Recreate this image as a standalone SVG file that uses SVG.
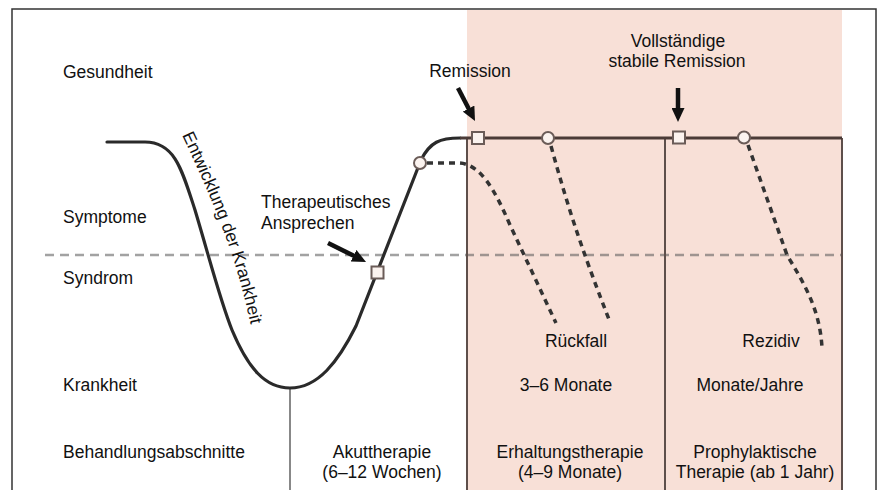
<svg xmlns="http://www.w3.org/2000/svg" width="880" height="490" viewBox="0 0 880 490">
<defs>
<style>
.t{font-family:"Liberation Sans",Arial,sans-serif;font-size:17.5px;fill:#111}
.m{text-anchor:middle}
.curve{fill:none;stroke:#2a2a2a;stroke-width:3.2;stroke-linecap:round;stroke-linejoin:round}
.vl{stroke:#5e4f4b;stroke-width:2;fill:none}
.dd{fill:none;stroke:#333;stroke-width:3.5;stroke-dasharray:6 5}
.gd{fill:none;stroke:#555;stroke-opacity:0.55;stroke-width:2.5;stroke-dasharray:9 6}
.arr{stroke:#111;stroke-width:4.5;fill:none;marker-end:url(#ah)}
.sq{fill:#fbf3ef;stroke:#6b5c58;stroke-width:2}
</style>
<marker id="ah" markerUnits="userSpaceOnUse" markerWidth="14" markerHeight="13" viewBox="0 0 14 13" refX="2" refY="6.5" orient="auto">
<path d="M0,0 L14,6.5 L0,13 z" fill="#111"/>
</marker>
<path id="tp" d="M182,135 C199,171 217,211 230,249 C239,275 246,302 254,340"/>
</defs>
<rect x="0" y="0" width="880" height="490" fill="#fff"/>
<rect x="467" y="10" width="375" height="480" fill="#f8e0d7"/>
<rect x="12" y="9" width="864" height="500" fill="none" stroke="#333" stroke-width="1.5"/>

<g id="guides">
<line class="gd" x1="45" y1="255" x2="842" y2="255"/>
<line x1="290" y1="388" x2="290" y2="490" stroke="#888" stroke-width="2"/>
<line class="vl" x1="467" y1="138" x2="467" y2="490"/>
<line class="vl" x1="665" y1="138" x2="665" y2="490"/>
<line class="vl" x1="842" y1="138" x2="842" y2="490"/>
</g>

<g id="connectors">
<path class="curve" d="M107,142 H145 C175,142 182,170 195,210 C210,260 220,300 232,330 C248,368 265,388 290,388 C318,388 338,362 356,326 L421,160 C430,142 440,138 460,138"/>
<path d="M460,138 H842" fill="none" stroke="#4b3b37" stroke-width="3"/>
<path class="dd" d="M427,163 H458 C480,163 495,190 510,225 L556,323"/>
<path class="dd" d="M551,146 C566,200 578,240 610,322"/>
<path class="dd" d="M748,145 L787,255 C805,285 820,310 822,348"/>
<line class="arr" x1="458" y1="88" x2="469.5" y2="110.3"/>
<line class="arr" x1="678" y1="88" x2="678" y2="110"/>
<line class="arr" x1="328" y1="243" x2="355.3" y2="256.6"/>
</g>

<g id="markers">
<rect class="sq" x="371.5" y="266.5" width="12" height="12"/>
<circle class="sq" cx="420" cy="163" r="6"/>
<rect class="sq" x="472" y="132" width="12" height="12"/>
<circle class="sq" cx="548" cy="138" r="6"/>
<rect class="sq" x="673" y="131.5" width="12" height="12"/>
<circle class="sq" cx="744" cy="137.5" r="6"/>
</g>

<g id="labels">
<text class="t" x="63" y="78">Gesundheit</text>
<text class="t" x="63" y="223">Symptome</text>
<text class="t" x="63" y="284">Syndrom</text>
<text class="t" x="63" y="391">Krankheit</text>
<text class="t" x="63" y="458">Behandlungsabschnitte</text>
<text class="t" x="261" y="208">Therapeutisches</text>
<text class="t" x="261" y="229">Ansprechen</text>
<text class="t m" x="470" y="77">Remission</text>
<text class="t m" x="678" y="47">Vollständige</text>
<text class="t m" x="677" y="67">stabile Remission</text>
<text class="t m" x="576" y="347">Rückfall</text>
<text class="t m" x="771" y="347">Rezidiv</text>
<text class="t m" x="566" y="391">3–6 Monate</text>
<text class="t m" x="750" y="391">Monate/Jahre</text>
<text class="t m" x="382" y="458">Akuttherapie</text>
<text class="t m" x="382" y="478">(6–12 Wochen)</text>
<text class="t m" x="570" y="458">Erhaltungstherapie</text>
<text class="t m" x="570" y="478">(4–9 Monate)</text>
<text class="t m" x="755" y="458">Prophylaktische</text>
<text class="t m" x="755" y="478">Therapie (ab 1 Jahr)</text>
<text class="t"><textPath href="#tp">Entwicklung der Krankheit</textPath></text>
</g>
</svg>
